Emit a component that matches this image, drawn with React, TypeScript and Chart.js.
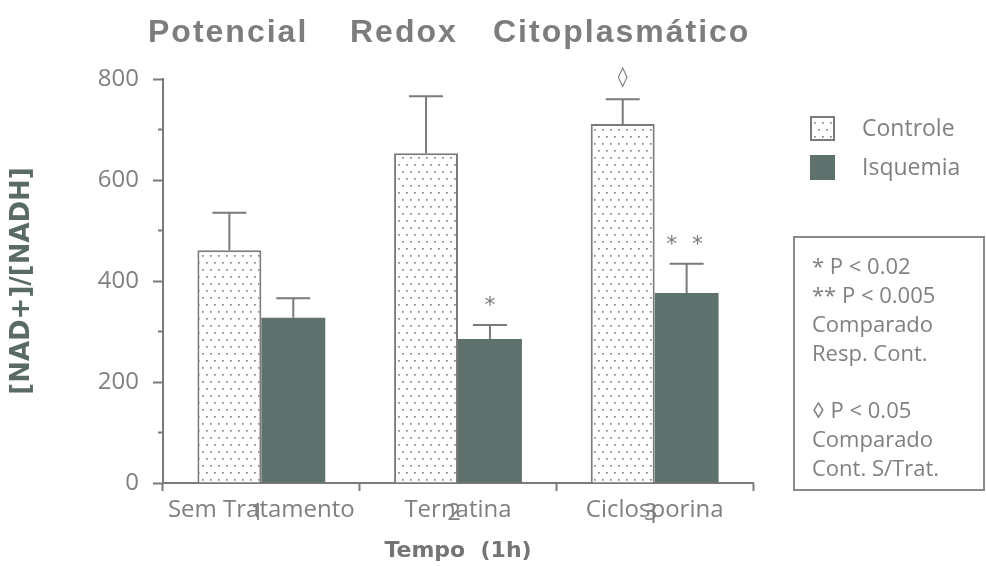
import React, { useEffect, useRef } from "react";
import { Chart, registerables } from "chart.js";

Chart.register(...registerables);

const categories = ["Sem Tratamento", "Ternatina", "Ciclosporina"];
const categoryNumbers = ["1", "2", "3"];
const controleValues = [461, 653, 711];
const controleErrors = [74, 113, 49];
const isquemiaValues = [327, 285, 376];
const isquemiaErrors = [39, 28, 58];
const controleMarks = ["", "", "◊"];
const isquemiaMarks = ["", "*", "* *"];
const yTicks = [0, 200, 400, 600, 800];
const yMinorTicks = [100, 300, 500, 700];
const titleWords = ["Potencial", "Redox", "Citoplasmático"];
const legendLabels = ["Controle", "Isquemia"];
const noteLines = [
  "* P < 0.02",
  "** P < 0.005",
  "Comparado",
  "Resp. Cont.",
  "◊ P < 0.05",
  "Comparado",
  "Cont. S/Trat.",
];

const GREY = "#7a7a7a";
const TEXT_GREY = "#808080";
const DARK = "#5f716c";
const LIGHT_FONT = "'Open Sans', Lato, sans-serif";

function makeDots(): CanvasPattern | string {
  const c = document.createElement("canvas");
  c.width = 8;
  c.height = 14;
  const g = c.getContext("2d");
  if (!g) return "#fff";
  g.fillStyle = "#ffffff";
  g.fillRect(0, 0, 8, 14);
  g.fillStyle = "#858585";
  g.fillRect(2, 3, 1.7, 1.7);
  g.fillRect(6, 10, 1.7, 1.7);
  const p = g.createPattern(c, "repeat");
  return p || "#fff";
}

export default function App() {
  const ref = useRef<HTMLCanvasElement>(null);

  useEffect(() => {
    document.body.style.margin = "0";
    const canvas = ref.current;
    if (!canvas) return;
    const dots = makeDots();

    const custom = {
      id: "custom",
      afterDatasetsDraw(chart: any) {
        const ctx = chart.ctx as CanvasRenderingContext2D;
        const y = chart.scales.y;
        const x = chart.scales.x;
        const sets = [
          { vals: controleValues, errs: controleErrors, marks: controleMarks },
          { vals: isquemiaValues, errs: isquemiaErrors, marks: isquemiaMarks },
        ];
        ctx.save();
        sets.forEach((s, di) => {
          const meta = chart.getDatasetMeta(di);
          meta.data.forEach((bar: any, i: number) => {
            const top = y.getPixelForValue(s.vals[i] + s.errs[i]);
            ctx.strokeStyle = GREY;
            ctx.lineWidth = 2;
            ctx.beginPath();
            ctx.moveTo(bar.x, bar.y);
            ctx.lineTo(bar.x, top);
            ctx.moveTo(bar.x - 17, top);
            ctx.lineTo(bar.x + 17, top);
            ctx.stroke();
            const m = s.marks[i];
            if (m) {
              ctx.fillStyle = GREY;
              ctx.textAlign = "center";
              ctx.textBaseline = "middle";
              if (m === "◊") {
                ctx.font = "bold 20px 'DejaVu Sans'";
                ctx.fillText(m, bar.x, top - 21);
              } else {
                ctx.font = "22px 'DejaVu Sans'";
                (ctx as any).letterSpacing = m.length > 1 ? "4px" : "0px";
                ctx.fillText(m, bar.x, top - 19);
                (ctx as any).letterSpacing = "0px";
              }
            }
          });
        });
        // minor ticks
        ctx.strokeStyle = GREY;
        ctx.lineWidth = 2;
        yMinorTicks.forEach((v) => {
          const py = y.getPixelForValue(v);
          ctx.beginPath();
          ctx.moveTo(chart.chartArea.left - 5, py);
          ctx.lineTo(chart.chartArea.left, py);
          ctx.stroke();
        });
        // category numbers
        ctx.fillStyle = TEXT_GREY;
        ctx.font = `24px ${LIGHT_FONT}`;
        ctx.textAlign = "center";
        ctx.textBaseline = "middle";
        categoryNumbers.forEach((n, i) => {
          ctx.fillText(n, x.getPixelForValue(i) - 4, 513);
        });
        // title
        ctx.fillStyle = "#7d7d7d";
        ctx.font = "bold 32px 'Liberation Sans'";
        (ctx as any).letterSpacing = "2px";
        ctx.textAlign = "left";
        ctx.textBaseline = "alphabetic";
        const titleX = [148, 350, 493];
        titleWords.forEach((w, i) => {
          ctx.fillText(w, titleX[i], 42);
        });
        (ctx as any).letterSpacing = "0px";
        // legend
        const boxes = [
          { y: 116, fill: dots, border: true },
          { y: 155, fill: DARK, border: false },
        ];
        boxes.forEach((b, i) => {
          ctx.fillStyle = b.fill as any;
          ctx.fillRect(810, b.y, 25, 25);
          if (b.border) {
            ctx.strokeStyle = GREY;
            ctx.lineWidth = 2;
            ctx.strokeRect(811, b.y + 1, 23, 23);
          }
          ctx.fillStyle = TEXT_GREY;
          ctx.font = `23px ${LIGHT_FONT}`;
          ctx.textAlign = "left";
          ctx.textBaseline = "middle";
          ctx.fillText(legendLabels[i], 862, b.y + 13);
        });
        // notes box
        ctx.strokeStyle = "#8a8a8a";
        ctx.lineWidth = 2;
        ctx.strokeRect(794, 237, 190, 253);
        ctx.fillStyle = TEXT_GREY;
        ctx.font = `22px ${LIGHT_FONT}`;
        const ys = [268, 297, 326, 355, 412, 441, 470];
        noteLines.forEach((t, i) => {
          ctx.fillText(t, 812, ys[i]);
        });
        ctx.restore();
      },
    };

    const chart = new Chart(canvas, {
      type: "bar",
      data: {
        labels: categories,
        datasets: [
          {
            label: legendLabels[0],
            data: controleValues,
            backgroundColor: dots as any,
            borderColor: GREY,
            borderWidth: 2,
            barPercentage: 1,
            categoryPercentage: 0.65,
          },
          {
            label: legendLabels[1],
            data: isquemiaValues,
            backgroundColor: DARK,
            borderWidth: 0,
            barPercentage: 1,
            categoryPercentage: 0.65,
          },
        ],
      },
      options: {
        animation: false,
        responsive: false,
        devicePixelRatio: 1,
        layout: { padding: { left: 0, right: 233, top: 79, bottom: 0 } },
        plugins: {
          legend: { display: false },
          title: { display: false },
          tooltip: { enabled: false },
        },
        scales: {
          x: {
            afterFit: (s: any) => {
              s.height = 83;
            },
            grid: {
              offset: true,
              drawOnChartArea: false,
              tickLength: 8,
              tickColor: GREY,
              tickWidth: 2,
            },
            border: { color: GREY, width: 2 },
            ticks: {
              color: TEXT_GREY,
              font: { family: LIGHT_FONT, size: 24 },
              padding: 5,
            },
            title: {
              display: true,
              text: "Tempo  (1h)",
              color: "#747474",
              font: { family: "'DejaVu Sans'", size: 22, weight: "bold" },
              padding: { top: 0, bottom: 2 },
            },
          },
          y: {
            min: 0,
            max: 800,
            afterFit: (s: any) => {
              s.width = 163;
            },
            afterBuildTicks: (s: any) => {
              s.ticks = yTicks.map((v) => ({ value: v }));
            },
            grid: {
              drawOnChartArea: false,
              tickLength: 10,
              tickColor: GREY,
              tickWidth: 2,
            },
            border: { color: GREY, width: 2 },
            ticks: {
              color: TEXT_GREY,
              font: { family: LIGHT_FONT, size: 24 },
              padding: 14,
            },
            title: {
              display: true,
              text: "[NAD+]/[NADH]",
              color: "#5a6a65",
              font: { family: "'DejaVu Sans'", size: 26, weight: "bold" },
              padding: { top: 7, bottom: 0 },
            },
          },
        },
      },
      plugins: [custom],
    });
    return () => chart.destroy();
  }, []);

  return (
    <div style={{ width: 986, height: 566, background: "#fff" }}>
      <canvas ref={ref} width={986} height={566} />
    </div>
  );
}
